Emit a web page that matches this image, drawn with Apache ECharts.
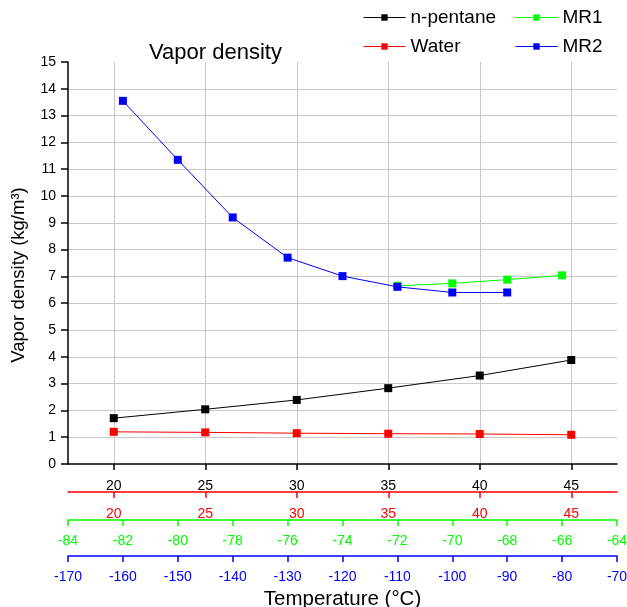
<!DOCTYPE html>
<html>
<head>
<meta charset="utf-8">
<script src="https://cdn.jsdelivr.net/npm/echarts@6/dist/echarts.min.js"></script>
<style>html,body{margin:0;padding:0;background:#fff}#c{width:627px;height:607px}</style>
</head>
<body>
<div id="c"></div>
<script>
// Data
var pentaneX = [20, 25, 30, 35, 40, 45];
var pentaneY = [1.71, 2.04, 2.39, 2.83, 3.30, 3.88];
var waterX = [20, 25, 30, 35, 40, 45];
var waterY = [1.20, 1.18, 1.15, 1.13, 1.12, 1.09];
var mr1X = [-72, -70, -68, -66];
var mr1Y = [6.65, 6.74, 6.88, 7.04];
var mr2X = [-160, -150, -140, -130, -120, -110, -100, -90];
var mr2Y = [13.55, 11.35, 9.20, 7.70, 7.01, 6.61, 6.40, 6.40];
var tempTicks = [20, 25, 30, 35, 40, 45];

function pairs(xs, ys) { return xs.map(function (x, i) { return [x, ys[i]]; }); }

var FONT = 'Liberation Sans, Arial, sans-serif';
var chart = echarts.init(document.getElementById('c'), null, { renderer: 'canvas' });

function bottomAxis(color, min, max, interval, offset, margin, custom, extra) {
  var ax = {
    type: 'value', gridIndex: 0, position: 'bottom', offset: offset,
    min: min, max: max,
    axisLine: { show: true, onZero: false, lineStyle: { color: color, width: 1.5 } },
    axisTick: { show: true, inside: false, length: 6, lineStyle: { color: color, width: 1.5 } },
    axisLabel: { color: color, fontFamily: FONT, fontSize: 14, margin: margin },
    splitLine: { show: false }
  };
  if (interval) ax.interval = interval;
  if (custom) {
    ax.axisTick.customValues = custom;
    ax.axisLabel.customValues = custom;
  }
  if (extra) for (var k in extra) ax[k] = extra[k];
  return ax;
}

var legendText = { fontFamily: FONT, fontSize: 19, color: '#000' };

var option = {
  backgroundColor: '#fff',
  animation: false,
  title: {
    text: 'Vapor density', left: 149, top: 42, padding: 0,
    textStyle: { fontFamily: FONT, fontSize: 22, fontWeight: 'normal', color: '#000' }
  },
  legend: [
    {
      orient: 'vertical', left: 363, top: 8, padding: 0, itemWidth: 42, itemHeight: 8, itemGap: 10,
      data: ['n-pentane', 'Water'], lineStyle: { width: 1 },
      textStyle: legendText
    },
    {
      orient: 'vertical', left: 515, top: 8, padding: 0, itemWidth: 42, itemHeight: 8, itemGap: 10,
      data: ['MR1', 'MR2'], lineStyle: { width: 1 },
      textStyle: legendText
    }
  ],
  grid: { left: 68, right: 10, top: 62, bottom: 143, containLabel: false, outerBoundsMode: 'none' },
  xAxis: [
    bottomAxis('#000', 17.5, 47.5, null, 0, 15, tempTicks, {
      splitLine: { show: true, lineStyle: { color: '#c8c8c8', width: 1 } }
    }),
    bottomAxis('#ff0000', 17.5, 47.5, null, 28, 15, tempTicks),
    bottomAxis('#00ff00', -84, -64, 2, 56, 14, null),
    bottomAxis('#0000ff', -170, -70, 10, 92, 14, null, {
      name: 'Temperature (°C)', nameLocation: 'middle', nameGap: 30,
      nameTextStyle: { fontFamily: FONT, fontSize: 20.5, color: '#000' }
    })
  ],
  yAxis: {
    type: 'value', min: 0, max: 15, interval: 1,
    axisLine: { show: true, lineStyle: { color: '#000', width: 1.5 } },
    axisTick: { show: true, inside: false, length: 7, lineStyle: { color: '#000', width: 1.5 } },
    axisLabel: { color: '#000', fontFamily: FONT, fontSize: 14, margin: 12 },
    splitLine: { show: true, showMaxLine: false, showMinLine: false, lineStyle: { color: '#c8c8c8', width: 1 } },
    name: 'Vapor density (kg/m³)', nameLocation: 'middle', nameGap: 40,
    nameTextStyle: { fontFamily: FONT, fontSize: 18.5, color: '#000', padding: [0, 24, 0, 0] }
  },
  series: [
    {
      name: 'n-pentane', type: 'line', xAxisIndex: 0, data: pairs(pentaneX, pentaneY),
      symbol: 'rect', symbolSize: 8, lineStyle: { color: '#000', width: 1 },
      itemStyle: { color: '#000' }, z: 2
    },
    {
      name: 'Water', type: 'line', xAxisIndex: 1, data: pairs(waterX, waterY),
      symbol: 'rect', symbolSize: 8, lineStyle: { color: '#ff0000', width: 1 },
      itemStyle: { color: '#ff0000' }, z: 2
    },
    {
      name: 'MR1', type: 'line', xAxisIndex: 2, data: pairs(mr1X, mr1Y),
      symbol: 'rect', symbolSize: 8, lineStyle: { color: '#00ff00', width: 1 },
      itemStyle: { color: '#00ff00' }, z: 2
    },
    {
      name: 'MR2', type: 'line', xAxisIndex: 3, data: pairs(mr2X, mr2Y),
      symbol: 'rect', symbolSize: 8, lineStyle: { color: '#0000ff', width: 1 },
      itemStyle: { color: '#0000ff' }, z: 3
    }
  ]
};
chart.setOption(option);
</script>
</body>
</html>
